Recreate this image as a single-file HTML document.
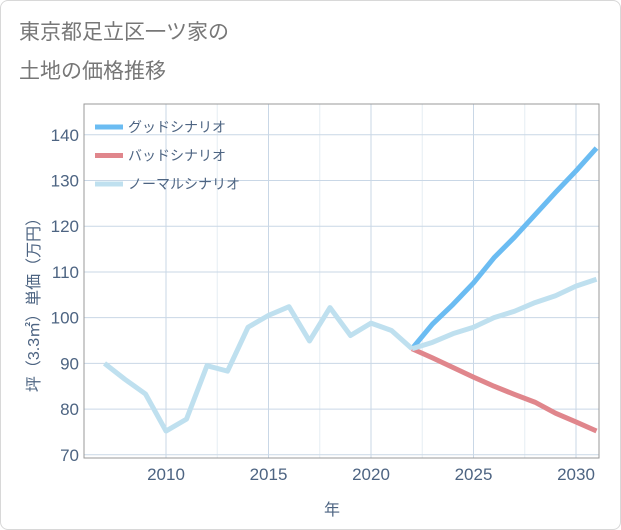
<!DOCTYPE html>
<html><head><meta charset="utf-8"><style>
html,body{margin:0;padding:0;background:#fff;}
.card{position:absolute;left:0;top:0;width:619px;height:528px;border:1px solid #d8d8d8;border-radius:8px;background:#fff;overflow:hidden;}
text{font-family:"Liberation Sans","Noto Sans CJK JP",sans-serif;}
</style></head><body>
<div class="card">
<svg id="chart" width="621" height="530" xmlns="http://www.w3.org/2000/svg">
<text x="18" y="38" font-size="21" fill="#777">東京都足立区一ツ家の</text>
<text x="18" y="77" font-size="21" fill="#777">土地の価格推移</text>
<g id="grid"></g>
<rect x="83" y="103" width="515" height="354" fill="none" stroke="#999" stroke-width="1"/>
<g id="series"></g>
<g id="axes"></g>
<text x="331" y="514" font-size="16" fill="#4d6482" text-anchor="middle">年</text>
<text transform="translate(38,300) rotate(-90)" font-size="16" fill="#4d6482" text-anchor="middle">坪（3.3㎡）単価（万円）</text>
<g id="legend"></g>
</svg>
</div>
<script>
const histYears=[2007,2008,2009,2010,2011,2012,2013,2014,2015,2016,2017,2018,2019,2020,2021,2022];
const histValues=[90,86.5,83.3,75.2,77.8,89.5,88.3,97.9,100.5,102.4,94.9,102.2,96.1,98.8,97.2,93.2];
const futYears=[2022,2023,2024,2025,2026,2027,2028,2029,2030,2031];
const goodValues=[93.2,98.6,102.9,107.6,113.1,117.6,122.5,127.4,132.1,137.1];
const badValues=[93.2,91.2,89.1,87.0,85.0,83.2,81.5,79.1,77.2,75.2];
const normalValues=[93.2,94.6,96.5,97.9,100.0,101.4,103.3,104.8,106.9,108.4];
const xTicks=[2010,2015,2020,2025,2030];
const yTicks=[70,80,90,100,110,120,130,140];
const seriesNames=["グッドシナリオ","バッドシナリオ","ノーマルシナリオ"];

const NS="http://www.w3.org/2000/svg";
const L=83,R=598,T=103,B=457;
function xs(y){return 165+(y-2010)*20.5;}
function ys(v){return 453.8-(v-70)*4.5714;}
function mk(tag,attrs,parent){const e=document.createElementNS(NS,tag);for(const k in attrs)e.setAttribute(k,attrs[k]);parent.appendChild(e);return e;}
const grid=document.getElementById('grid'),axes=document.getElementById('axes'),ser=document.getElementById('series'),leg=document.getElementById('legend');
xTicks.forEach(t=>{
  const g=mk('line',{x1:xs(t),x2:xs(t),y1:T,y2:B,stroke:'#c9d7e6','stroke-width':1},grid);
  
  
  const tx=mk('text',{x:xs(t),y:479,'font-size':17,fill:'#4d6482','text-anchor':'middle'},axes);
  tx.textContent=t;
  
  
});
[2012.5,2017.5,2022.5,2027.5].forEach(t=>{
  const g=mk('line',{x1:xs(t),x2:xs(t),y1:T,y2:B,stroke:'#e6edf4','stroke-width':1},grid);
  
  
});
yTicks.forEach(t=>{
  const g=mk('line',{x1:L,x2:R,y1:ys(t),y2:ys(t),stroke:'#c9d7e6','stroke-width':1},grid);
  
  
  const tx=mk('text',{x:78,y:ys(t)+6,'font-size':17,fill:'#4d6482','text-anchor':'end'},axes);
  tx.textContent=t;
  
  
});
function pts(xsArr,vals){return xsArr.map((y,i)=>xs(y)+','+ys(vals[i])).join(' ');}
const p1=mk('polyline',{points:pts(futYears,badValues),fill:'none',stroke:'#e0868c','stroke-width':5,'stroke-linejoin':'round'},ser);


const p2=mk('polyline',{points:pts(futYears,goodValues),fill:'none',stroke:'#6bbcf2','stroke-width':5,'stroke-linejoin':'round'},ser);


const p3=mk('polyline',{points:pts(futYears,normalValues),fill:'none',stroke:'#bfe0ef','stroke-width':5,'stroke-linejoin':'round'},ser);


const p4=mk('polyline',{points:pts(histYears,histValues),fill:'none',stroke:'#bfe0ef','stroke-width':5,'stroke-linejoin':'round'},ser);


const legColors=['#6bbcf2','#e0868c','#bfe0ef'];
seriesNames.forEach((n,i)=>{
  const y=126+i*28.5;
  const l=mk('line',{x1:94,x2:122,y1:y,y2:y,stroke:legColors[i],'stroke-width':5},leg);
  
  
  const t=mk('text',{x:127,y:y+5,'font-size':14,fill:'#4d6482'},leg);
  t.textContent=n;
  
  
});
</script>
</body></html>
